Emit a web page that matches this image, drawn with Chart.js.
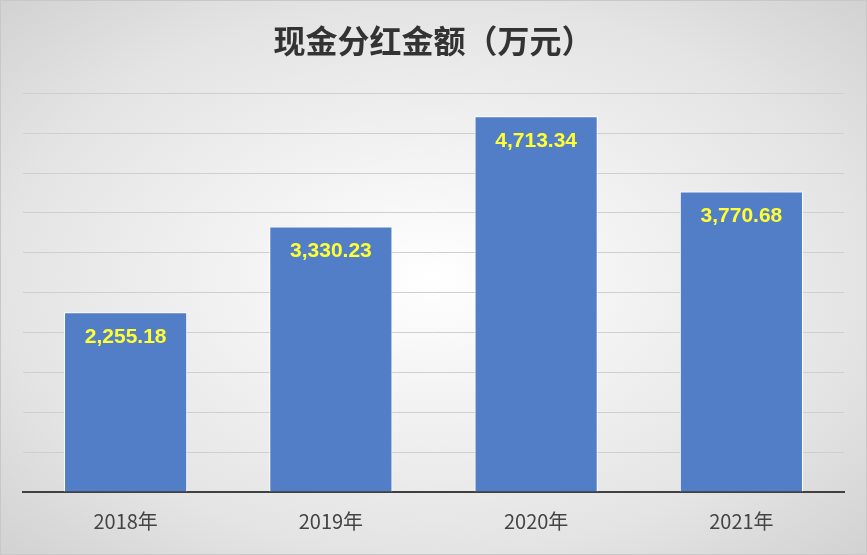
<!DOCTYPE html>
<html>
<head>
<meta charset="utf-8">
<script src="https://cdn.jsdelivr.net/npm/chart.js@4"></script>
<style>
html,body{margin:0;padding:0;}
#wrap{width:867px;height:555px;background:radial-gradient(ellipse at center,#ffffff 0%,#e4e4e4 70%,#d2d2d2 100%);box-sizing:border-box;border:1px solid #c8c8c8;}
</style>
</head>
<body>
<div id="wrap"><canvas id="myChart" width="865" height="553"></canvas></div>
<script>
const categories = ["2018年", "2019年", "2020年", "2021年"];
const values = [2255.18, 3330.23, 4713.34, 3770.68];

const labelPlugin = {
    id: 'labels',
    afterDatasetsDraw(chart) {
        const c = chart.ctx;
        const meta = chart.getDatasetMeta(0);
        c.save();
        c.fillStyle = '#ffff33';
        c.font = 'bold 21px "Liberation Sans", Arial, sans-serif';
        c.textAlign = 'center';
        c.textBaseline = 'middle';
        meta.data.forEach((bar, i) => {
            const txt = values[i].toLocaleString('en-US', {minimumFractionDigits: 2});
            c.fillText(txt, bar.x, bar.y + 25);
        });
        c.restore();
    }
};

const ctx = document.getElementById("myChart").getContext("2d");
new Chart(ctx, {
    type: 'bar',
    data: {
        labels: categories,
        datasets: [{
            data: values,
            backgroundColor: '#527ec8',
            borderColor: '#ffffff',
            borderWidth: 1,
            categoryPercentage: 1,
            barPercentage: 0.6,
        }],
    },
    options: {
        responsive: false,
        animation: false,
        layout: {padding: {left: 22, right: 22, top: 0, bottom: 12}},
        plugins: {
            legend: {display: false},
            tooltip: {enabled: false},
            title: {
                display: true,
                text: '现金分红金额（万元）',
                color: '#333333',
                font: {size: 32, weight: 'bold', family: '"Noto Sans CJK SC", sans-serif'},
                padding: {top: 21, bottom: 33}
            }
        },
        scales: {
            y: {
                min: 0, max: 5000,
                ticks: {stepSize: 500, display: false},
                grid: {color: '#cfcfcf', drawTicks: false},
                border: {display: false}
            },
            x: {
                grid: {display: false},
                border: {color: '#404040', width: 2},
                ticks: {color: '#444', font: {size: 20, family: '"Noto Sans CJK SC", sans-serif'}, padding: 9}
            }
        }
    },
    plugins: [labelPlugin]
});
</script>
</body>
</html>
